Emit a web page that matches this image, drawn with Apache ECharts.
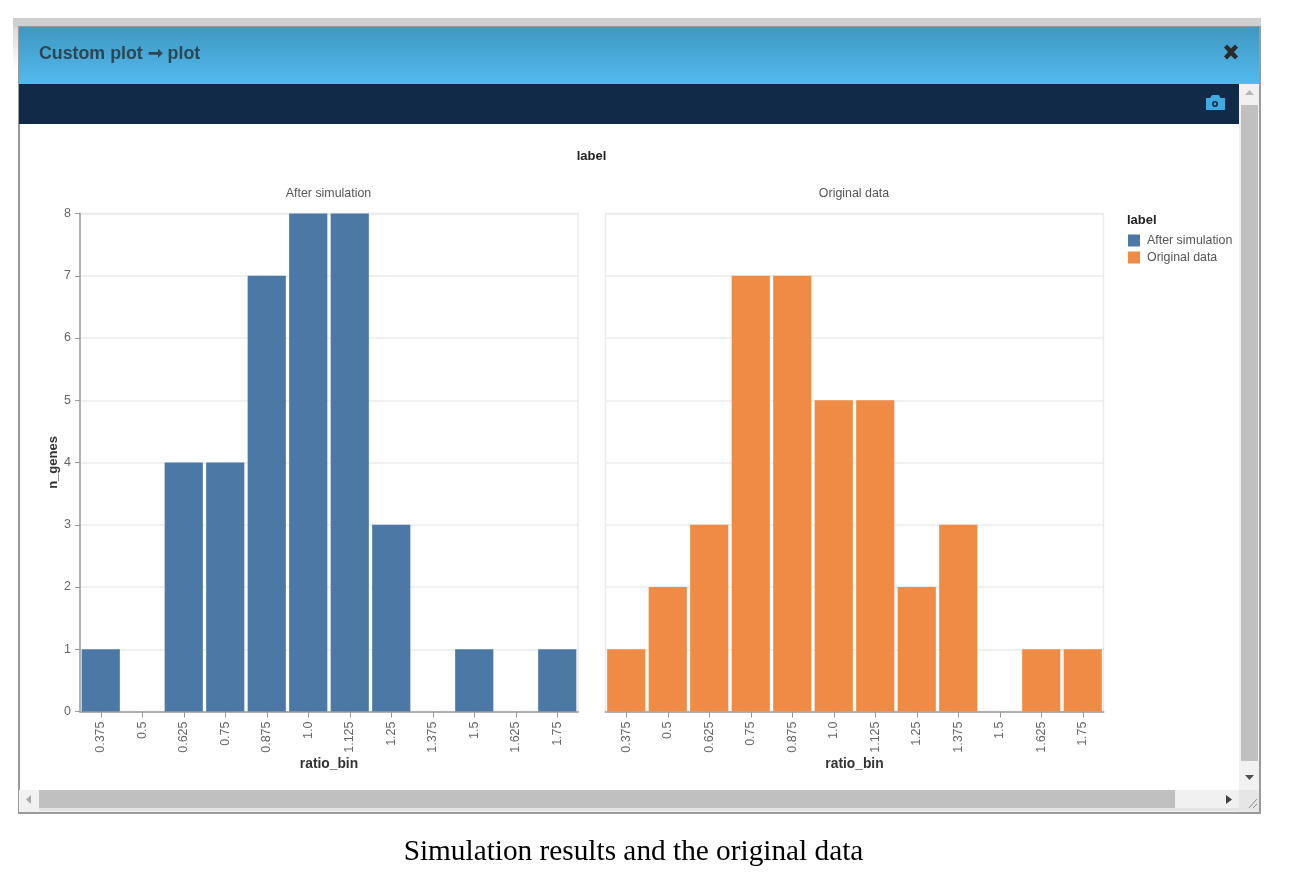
<!DOCTYPE html>
<html><head><meta charset="utf-8">
<style>html,body{margin:0;padding:0;background:#fff}#c{width:1296px;height:882px;filter:blur(0.45px)}</style>
<script src="https://cdn.jsdelivr.net/npm/echarts@6/dist/echarts.min.js"></script>
</head><body><div id="c"></div>
<script>
const categories = ['0.375','0.5','0.625','0.75','0.875','1.0','1.125','1.25','1.375','1.5','1.625','1.75'];
const afterSimulation = [1,0,4,4,7,8,8,3,0,1,0,1];
const originalData = [1,2,3,7,7,5,5,2,3,0,1,1];
const FONT = '"Liberation Sans", Arial, sans-serif';
const chart = echarts.init(document.getElementById('c'), null, {renderer:'canvas', width:1296, height:882});

function rect(x,y,w,h,fill,z){return {type:'rect',silent:true,z:z||-10,shape:{x,y,width:w,height:h},style:{fill}};}
function poly(pts,fill,z){return {type:'polygon',silent:true,z:z||-5,shape:{points:pts},style:{fill}};}
function txt(x,y,text,font,fill,align){return {type:'text',silent:true,z:5,x,y,style:{text,font,fill,align:align||'left',verticalAlign:'middle'}};}

const chrome = [
  {type:'rect',silent:true,z:-13,shape:{x:13,y:18,width:6,height:50},
   style:{fill:new echarts.graphic.LinearGradient(0,0,0,1,[{offset:0,color:'#cfcfcf'},{offset:1,color:'#ffffff'}])}},
  rect(13,18,1248,9,'#cfcfcf',-12),
  rect(18,26,1243,788,'#9a9a9a',-11),
  rect(20,27,1239,785,'#ffffff',-10),
  {type:'rect',silent:true,z:-9,shape:{x:19,y:27,width:1240,height:57},
   style:{fill:new echarts.graphic.LinearGradient(0,0,0,1,[{offset:0,color:'#3f97c1'},{offset:1,color:'#53baee'}])}},
  rect(19,84,1220,40,'#112a47',-9),
  txt(39,54,'Custom plot ➞ plot','bold 17.8px '+FONT,'#2d4654'),
  poly([[1224,47.5],[1227,44.5],[1231,48.5],[1235,44.5],[1238,47.5],[1234,52],[1238,56.5],[1235,59.5],[1231,55.5],[1227,59.5],[1224,56.5],[1228,52]],'#2b2b2b',5),
  // camera icon
  poly([[1206,98],[1210,98],[1212,95],[1219,95],[1220.5,98],[1225,98],[1225,110],[1206,110]],'#3fa9e0',5),
  {type:'circle',silent:true,z:6,shape:{cx:1215,cy:104,r:3},style:{fill:'#112a47'}},
  {type:'circle',silent:true,z:7,shape:{cx:1215,cy:104,r:1.4},style:{fill:'#3fa9e0'}},
  // vertical scrollbar
  rect(1239,84,20,706,'#f1f1f1',-9),
  rect(1241,105,17,656,'#c0c0c0',-8),
  poly([[1245,95],[1254,95],[1249.5,90]],'#b5b5b5'),
  poly([[1245,775],[1254,775],[1249.5,780]],'#505050'),
  // horizontal scrollbar
  rect(19,790,1240,22,'#f1f1f1',-9),
  rect(39,790,1136,18,'#c0c0c0',-8),
  rect(39,808,1200,3,'#e4e4e4',-8),
  rect(1239,790,20,22,'#e6e6e6',-8),
  poly([[31,795],[31,804],[26,799.5]],'#a8a8a8'),
  poly([[1226,795],[1226,804],[1232,799.5]],'#404040'),
  {type:'line',silent:true,z:-4,shape:{x1:1249,y1:808,x2:1257,y2:799},style:{stroke:'#8a8a8a',lineWidth:1}},
  {type:'line',silent:true,z:-4,shape:{x1:1253,y1:808,x2:1257,y2:804},style:{stroke:'#8a8a8a',lineWidth:1}},
  // caption
  txt(633.5,852.5,'Simulation results and the original data','29.3px "Liberation Serif", "Times New Roman", serif','#000000','center')
];

function xAxis(gridIndex){return {
  type:'category',gridIndex,data:categories,name:'ratio_bin',nameLocation:'middle',nameGap:46,nameMoveOverlap:false,
  nameTextStyle:{color:'#333',fontWeight:'bold',fontSize:13.8,fontFamily:FONT},
  axisLine:{show:true,lineStyle:{color:'#b0b0b0',width:2}},
  axisTick:{show:true,alignWithLabel:true,length:6,lineStyle:{color:'#999',width:1}},
  axisLabel:{rotate:90,interval:0,margin:10,fontSize:12.5,fontFamily:FONT,color:'#666'},
  splitLine:{show:false}
};}
function yAxis(gridIndex,labels){return {
  type:'value',gridIndex,min:0,max:8,interval:1,
  name:labels?'n_genes':'',nameLocation:'middle',nameGap:20,nameMoveOverlap:false,
  nameTextStyle:{fontWeight:'bold',fontSize:13,fontFamily:FONT,color:'#333'},
  axisLine:{show:labels,lineStyle:{color:'#b0b0b0',width:2}},
  axisTick:{show:labels,length:5,lineStyle:{color:'#999',width:1}},
  axisLabel:{show:labels,margin:9,fontSize:12.5,fontFamily:FONT,color:'#666'},
  splitLine:{show:true,lineStyle:{color:'#ebebeb',width:1.5}}
};}
function bars(name,data,color,i){return {
  name,type:'bar',data,xAxisIndex:i,yAxisIndex:i,barCategoryGap:'8%',
  itemStyle:{color},silent:true,animation:false
};}

chart.setOption({
  animation:false,
  backgroundColor:'#fff',
  title:[
    {text:'label',left:591.5,top:149.5,padding:0,textAlign:'center',textStyle:{fontSize:13,fontWeight:'bold',fontFamily:FONT,color:'#222'}},
    {text:'After simulation',left:328.5,top:187.5,padding:0,textAlign:'center',textStyle:{fontSize:12.4,fontWeight:'normal',fontFamily:FONT,color:'#555'}},
    {text:'Original data',left:854,top:187.5,padding:0,textAlign:'center',textStyle:{fontSize:12.4,fontWeight:'normal',fontFamily:FONT,color:'#555'}},
    {text:'label',left:1127,top:213.5,padding:0,textStyle:{fontSize:13,fontWeight:'bold',fontFamily:FONT,color:'#222'}}
  ],
  legend:{
    orient:'vertical',left:1128,top:234.5,itemWidth:12,itemHeight:12,itemGap:5,icon:'rect',selectedMode:false,
    textStyle:{fontSize:12.4,fontFamily:FONT,color:'#555',padding:[0,0,0,2]},
    padding:0,
    data:['After simulation','Original data']
  },
  grid:[
    {left:80,top:213.5,width:498,height:498,show:true,borderColor:'#ebebeb',borderWidth:1.5,backgroundColor:'transparent'},
    {left:605.5,top:213.5,width:498,height:498,show:true,borderColor:'#ebebeb',borderWidth:1.5,backgroundColor:'transparent'}
  ],
  xAxis:[xAxis(0),xAxis(1)],
  yAxis:[yAxis(0,true),yAxis(1,false)],
  series:[bars('After simulation',afterSimulation,'#4c78a6',0),bars('Original data',originalData,'#f08b45',1)],
  graphic:{elements:chrome}
});
</script></body></html>
